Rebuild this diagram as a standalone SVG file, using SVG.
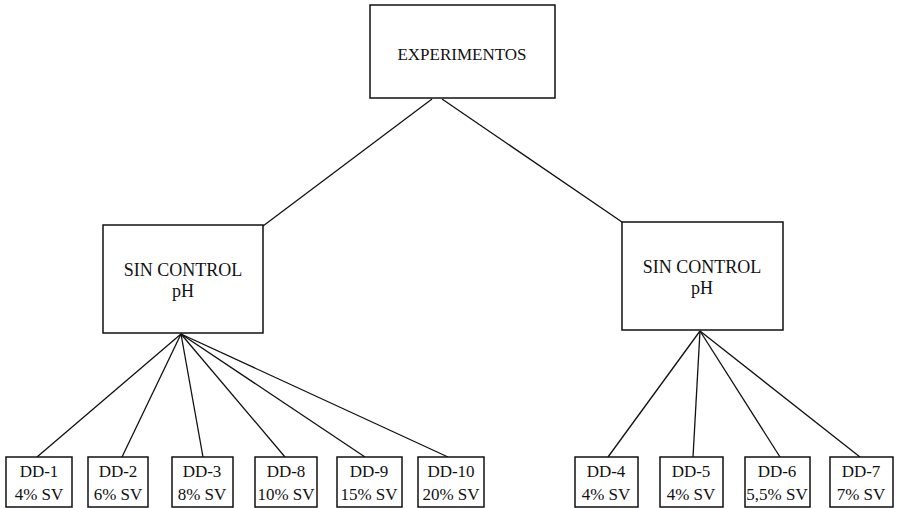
<svg xmlns="http://www.w3.org/2000/svg" width="900" height="508" viewBox="0 0 900 508">
<style>
rect{fill:#fff;stroke:#111;stroke-width:1.5}
line{stroke:#111;stroke-width:1.3}
text{font-family:"Liberation Serif",serif;font-size:17px;fill:#111;text-anchor:middle}
.m{font-size:18px}
</style>
<rect x="0" y="0" width="900" height="508" style="stroke:none"/>
<g id="connectors">
<line x1="432" y1="99" x2="263" y2="226"/>
<line x1="442" y1="99" x2="622" y2="222"/>
<line x1="181" y1="334" x2="37" y2="457"/>
<line x1="181" y1="334" x2="122" y2="457"/>
<line x1="181" y1="334" x2="203" y2="457"/>
<line x1="181" y1="334" x2="285" y2="457"/>
<line x1="181" y1="334" x2="365" y2="457"/>
<line x1="181" y1="334" x2="448" y2="457"/>
<line x1="700" y1="331" x2="608" y2="457"/>
<line x1="700" y1="331" x2="693" y2="457"/>
<line x1="700" y1="331" x2="780" y2="457"/>
<line x1="700" y1="331" x2="860" y2="457"/>
</g>
<g id="experimentos"><rect x="370" y="5" width="185" height="93"/><text x="462" y="60">EXPERIMENTOS</text></g>
<g id="sin-control-1"><rect x="103" y="225" width="160" height="108"/><text class="m" x="183" y="276">SIN CONTROL</text><text class="m" x="183" y="297">pH</text></g>
<g id="sin-control-2"><rect x="622" y="222" width="161" height="108"/><text class="m" x="702" y="273">SIN CONTROL</text><text class="m" x="702" y="294">pH</text></g>
<g id="dd1"><rect x="6" y="457" width="66" height="50"/><text x="39" y="477">DD-1</text><text x="39" y="500">4% SV</text></g>
<g id="dd2"><rect x="88" y="457" width="60" height="50"/><text x="118" y="477">DD-2</text><text x="118" y="500">6% SV</text></g>
<g id="dd3"><rect x="172" y="457" width="61" height="50"/><text x="202" y="477">DD-3</text><text x="202" y="500">8% SV</text></g>
<g id="dd8"><rect x="255" y="457" width="62" height="50"/><text x="286" y="477">DD-8</text><text x="286" y="500">10% SV</text></g>
<g id="dd9"><rect x="337" y="457" width="65" height="50"/><text x="369" y="477">DD-9</text><text x="369" y="500">15% SV</text></g>
<g id="dd10"><rect x="418" y="457" width="66" height="50"/><text x="451" y="477">DD-10</text><text x="451" y="500">20% SV</text></g>
<g id="dd4"><rect x="575" y="457" width="63" height="50"/><text x="606" y="477">DD-4</text><text x="606" y="500">4% SV</text></g>
<g id="dd5"><rect x="660" y="457" width="63" height="50"/><text x="691" y="477">DD-5</text><text x="691" y="500">4% SV</text></g>
<g id="dd6"><rect x="745" y="457" width="65" height="50"/><text x="777" y="477">DD-6</text><text x="777" y="500">5,5% SV</text></g>
<g id="dd7"><rect x="830" y="457" width="63" height="50"/><text x="861" y="477">DD-7</text><text x="861" y="500">7% SV</text></g>
</svg>
